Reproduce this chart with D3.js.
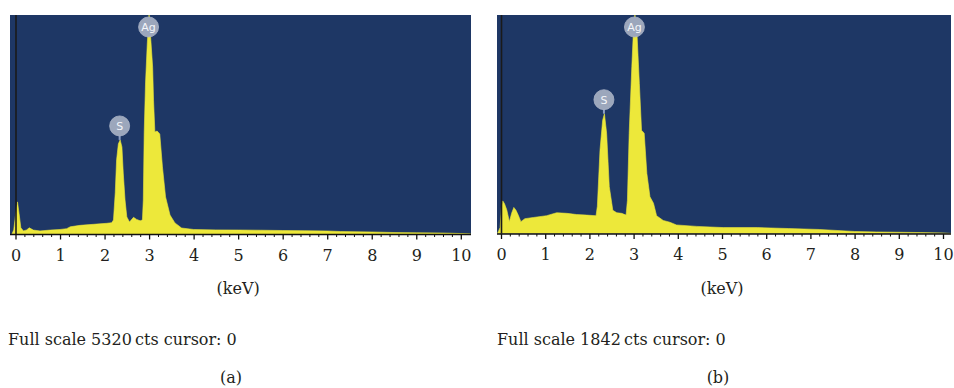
<!DOCTYPE html>
<html>
<head>
<meta charset="utf-8">
<script src="https://cdn.jsdelivr.net/npm/d3@7"></script>
<style>
  html, body { margin: 0; padding: 0; background: #ffffff; }
  svg { display: block; }
</style>
</head>
<body>
<svg id="chart" width="954" height="388"></svg>
<script>
// ---------- DATA ----------
// Panel (a): energy in keV, counts
const energyA = [-0.08, -0.04, 0.0, 0.045, 0.08, 0.12, 0.18, 0.25, 0.31, 0.40, 0.55, 0.78, 1.0, 1.15, 1.23,
  1.45, 1.75, 2.05, 2.16, 2.20, 2.24, 2.27, 2.31, 2.35, 2.39, 2.42, 2.46, 2.50, 2.56, 2.65, 2.72, 2.80,
  2.85, 2.87, 2.89, 2.92, 2.96, 3.00, 3.04, 3.08, 3.10, 3.13, 3.18, 3.24, 3.30, 3.37, 3.47, 3.58, 3.73,
  4.0, 4.5, 5.0, 5.5, 6.0, 6.5, 7.0, 7.3, 8.0, 8.5, 9.0, 9.6, 10.0, 10.22];
const countsA = [0, 100, 450, 780, 500, 150, 75, 100, 150, 95, 75, 95, 110, 130, 175,
  210, 235, 260, 275, 340, 1000, 1800, 2190, 2285, 2115, 1480, 825, 415, 290, 405, 355, 320,
  340, 825, 2455, 3670, 4640, 5320, 4700, 4050, 3250, 2480, 2500, 2430, 1630, 900, 460, 270, 145,
  110, 100, 97, 92, 85, 80, 73, 60, 50, 36, 30, 24, 12, 0];

// Panel (b)
const energyB = [-0.08, -0.02, 0.01, 0.04, 0.08, 0.13, 0.19, 0.24, 0.29, 0.34, 0.39, 0.45, 0.54, 0.73,
  1.03, 1.26, 1.49, 1.71, 1.94, 2.15, 2.18, 2.24, 2.30, 2.34, 2.39, 2.45, 2.53, 2.62, 2.73, 2.83,
  2.86, 2.90, 2.96, 2.99, 3.03, 3.08, 3.13, 3.18, 3.24, 3.30, 3.37, 3.45, 3.52, 3.67, 3.82, 3.97,
  4.43, 5.03, 5.8, 6.5, 7.2, 8.0, 8.5, 9.5, 10.0, 10.2];
const countsB = [0, 50, 220, 275, 250, 200, 100, 170, 220, 195, 155, 100, 125, 135,
  150, 175, 170, 160, 155, 150, 230, 705, 955, 1010, 845, 395, 195, 175, 170, 155,
  280, 845, 1410, 1660, 1842, 1660, 1265, 870, 845, 505, 310, 255, 150, 110, 95, 72,
  60, 50, 50, 42, 34, 17, 13, 8, 5, 0];

const fullScaleA = 5320;
const fullScaleB = 1842;
const cursorA = 0;
const cursorB = 0;

const peakNamesA = ["S", "Ag"];
const peakEnergiesA = [2.35, 3.00];
const peakNamesB = ["S", "Ag"];
const peakEnergiesB = [2.34, 3.03];

const majorTicks = [0, 1, 2, 3, 4, 5, 6, 7, 8, 9, 10];
const tickLabels = ["0", "1", "2", "3", "4", "5", "6", "7", "8", "9", "10"];
const minorTicks = d3.range(0, 51).map(i => i / 5); // every 0.2 keV
const axisTitle = "(keV)";
const captionA = "Full scale 5320\u2009cts cursor: 0";
const captionB = "Full scale 1842\u2009cts cursor: 0";
const panelLetterA = "(a)";
const panelLetterB = "(b)";

// ---------- LAYOUT / STYLE ----------
const BG = "#1e3765";
const YEL = "#ede83a";
const serif = "'DejaVu Serif', 'Liberation Serif', serif";
const FS = 16;
const TXT = "#231f20";
const svg = d3.select("#chart");

function panel(cfg) {
  const g = svg.append("g");
  const x = d3.scaleLinear().domain([0, 10]).range([cfg.x0, cfg.x10]);
  const y = d3.scaleLinear().domain([0, cfg.fullScale]).range([cfg.bottom, cfg.top]);

  const clipId = "clip" + cfg.id;
  svg.append("clipPath").attr("id", clipId).append("rect")
    .attr("x", cfg.left).attr("y", cfg.top)
    .attr("width", cfg.right - cfg.left).attr("height", cfg.bottom - cfg.top);

  g.append("rect")
    .attr("x", cfg.left).attr("y", cfg.top)
    .attr("width", cfg.right - cfg.left).attr("height", cfg.bottom - cfg.top)
    .attr("fill", BG);

  const pts = cfg.energy.map((e, i) => [e, cfg.counts[i]]);
  const area = d3.area()
    .x(d => x(d[0]))
    .y0(y(0))
    .y1(d => y(d[1]))
    .curve(d3.curveLinear);
  g.append("path")
    .datum(pts)
    .attr("clip-path", `url(#${clipId})`)
    .attr("d", area)
    .attr("fill", YEL)
    .attr("stroke", YEL)
    .attr("stroke-width", 0.6);

  // cursor line
  g.append("line")
    .attr("x1", x(cfg.cursor) + 0.5).attr("x2", x(cfg.cursor) + 0.5)
    .attr("y1", cfg.top).attr("y2", cfg.bottom)
    .attr("stroke", "#1a1a1a").attr("stroke-width", 1.6);

  // peak labels
  cfg.peakNames.forEach((name, i) => {
    const e = cfg.peakEnergies[i];
    let best = 0;
    cfg.energy.forEach((v, j) => { if (Math.abs(v - e) < 0.03) best = Math.max(best, cfg.counts[j]); });
    const py = y(best);
    const r = 10;
    const cy = Math.max(py - 14, cfg.top + 12);
    const cx = x(e) - 0.5;
    if (py > cy + r) {
      g.append("line").attr("x1", cx).attr("x2", cx)
        .attr("y1", cy + r - 1).attr("y2", py)
        .attr("stroke", "#8d9fc4").attr("stroke-width", 2);
    }
    g.append("circle").attr("cx", cx).attr("cy", cy).attr("r", r)
      .attr("fill", "#9ca7bc").attr("stroke", "#aab3c5").attr("stroke-width", 0.8);
    g.append("text").attr("x", cx).attr("y", cy + 4)
      .attr("text-anchor", "middle")
      .attr("font-family", "'DejaVu Sans', sans-serif")
      .attr("font-size", 11)
      .attr("fill", "#f4f6fa")
      .text(name);
  });

  // axis baseline
  g.append("line").attr("x1", cfg.left).attr("x2", cfg.right)
    .attr("y1", cfg.bottom + 0.5).attr("y2", cfg.bottom + 0.5)
    .attr("stroke", "#111").attr("stroke-width", 1.3);

  // ticks
  const axis = d3.axisBottom(x).tickValues(majorTicks)
    .tickFormat((d, i) => tickLabels[i]).tickSize(5).tickPadding(10);
  const ag = g.append("g").attr("transform", `translate(0,${cfg.bottom + 0.5})`).call(axis);
  ag.select(".domain").remove();
  ag.selectAll(".tick line").attr("stroke", "#111").attr("stroke-width", 1.3);
  ag.selectAll(".tick text").attr("font-family", serif).attr("font-size", FS).attr("fill", TXT);

  const minorAxis = d3.axisBottom(x).tickValues(minorTicks.filter(v => !majorTicks.includes(v)))
    .tickFormat("").tickSize(2.5);
  const mg = g.append("g").attr("transform", `translate(0,${cfg.bottom + 0.5})`).call(minorAxis);
  mg.select(".domain").remove();
  mg.selectAll(".tick line").attr("stroke", "#111").attr("stroke-width", 1);

  g.append("text").attr("x", x(5)).attr("y", 293.5)
    .attr("text-anchor", "middle").attr("font-family", serif).attr("font-size", FS).attr("fill", TXT)
    .text(axisTitle);
  g.append("text").attr("x", cfg.captionX).attr("y", 345)
    .attr("font-family", serif).attr("font-size", FS).attr("fill", TXT)
    .text(cfg.caption);
  g.append("text").attr("x", cfg.letterX).attr("y", 382.5)
    .attr("text-anchor", "middle").attr("font-family", serif).attr("font-size", FS).attr("fill", TXT)
    .text(cfg.letter);
}

panel({ id: "a", left: 10, right: 471, top: 15, bottom: 234, x0: 15.5, x10: 460.8,
  energy: energyA, counts: countsA, fullScale: fullScaleA, cursor: cursorA,
  peakNames: peakNamesA, peakEnergies: peakEnergiesA,
  caption: captionA, captionX: 8, letter: panelLetterA, letterX: 231 });
panel({ id: "b", left: 497, right: 951, top: 15, bottom: 233.5, x0: 501, x10: 943,
  energy: energyB, counts: countsB, fullScale: fullScaleB, cursor: cursorB,
  peakNames: peakNamesB, peakEnergies: peakEnergiesB,
  caption: captionB, captionX: 497, letter: panelLetterB, letterX: 718 });
</script>
</body>
</html>
